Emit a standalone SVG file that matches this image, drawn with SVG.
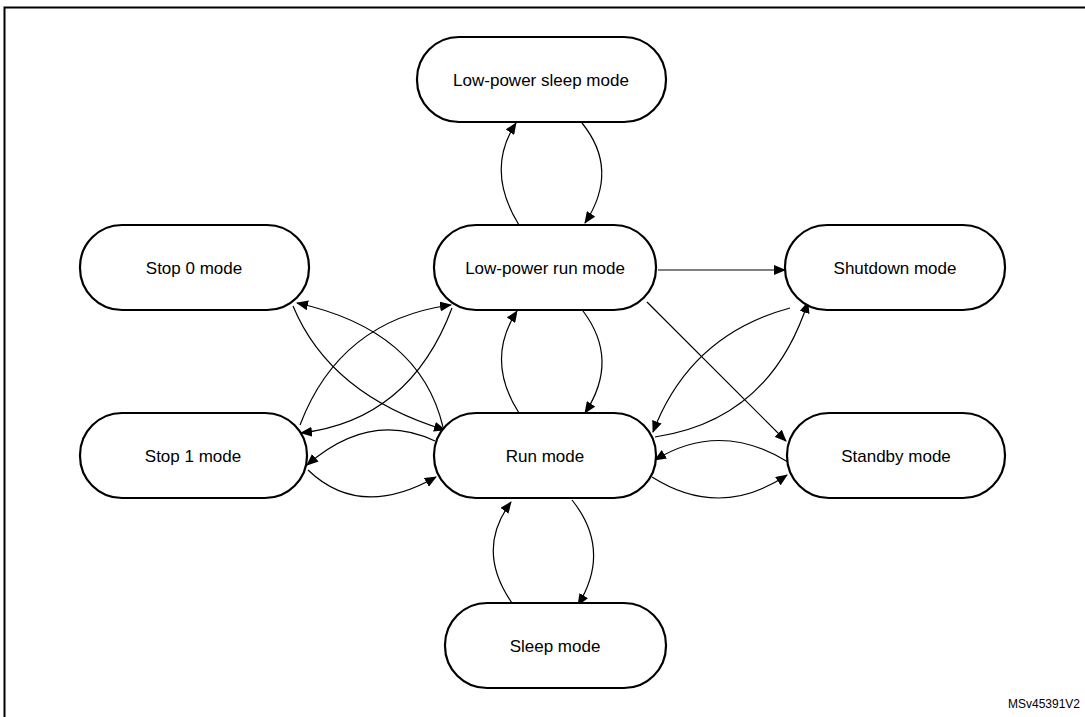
<svg xmlns="http://www.w3.org/2000/svg" width="1085" height="717" viewBox="0 0 1085 717">
<style>
.n rect{fill:#fff;stroke:#000;stroke-width:2.2}
.n text{font-family:"Liberation Sans",Arial,sans-serif;font-size:17px;text-anchor:middle;dominant-baseline:central}
.c path{fill:none;stroke:#000;stroke-width:1.2;marker-end:url(#a)}
</style>
<defs><marker id="a" markerWidth="12" markerHeight="10" refX="11" refY="5" orient="auto" markerUnits="userSpaceOnUse"><path d="M0,0 L12,5 L0,10 Z" fill="#000"/></marker></defs>
<rect x="4.5" y="7.5" width="1085" height="712" fill="#fff" stroke="#000" stroke-width="2"/>
<g class="c">
<path d="M658,270 L785,270"/>
<path d="M647,302 L786,441"/>
<path d="M519,413 Q485,360 517,311"/>
<path d="M583,311 Q620,360 585,413"/>
<path d="M519,225 Q485,170 516,123"/>
<path d="M582,123 Q620,170 585,223"/>
<path d="M512,603 Q475,550 511,502"/>
<path d="M572,500 Q612,550 578,605"/>
<path d="M293,306 Q330,395 445,430"/>
<path d="M443,427 Q420,330 297,303"/>
<path d="M300,425 Q340,320 451,305"/>
<path d="M452,308 Q410,420 301,433"/>
<path d="M308,470 Q360,520 436,477"/>
<path d="M435,441 Q370,410 307,465"/>
<path d="M790,308 Q690,335 653,432"/>
<path d="M655,437 Q770,420 808,302"/>
<path d="M788,462 Q720,420 655,460"/>
<path d="M652,477 Q720,520 787,475"/>
</g>
<g id="lpsleep" class="n"><rect x="417" y="37" width="249" height="85" rx="42"/><text x="541" y="80">Low-power sleep mode</text></g>
<g id="stop0" class="n"><rect x="80" y="225" width="229" height="85" rx="42"/><text x="194" y="268">Stop 0 mode</text></g>
<g id="lprun" class="n"><rect x="434" y="225" width="222" height="85" rx="42"/><text x="545" y="268">Low-power run mode</text></g>
<g id="shutdown" class="n"><rect x="785" y="225" width="220" height="85" rx="42"/><text x="895" y="268">Shutdown mode</text></g>
<g id="stop1" class="n"><rect x="80" y="413" width="227" height="85" rx="42"/><text x="193" y="456">Stop 1 mode</text></g>
<g id="run" class="n"><rect x="434" y="413" width="222" height="85" rx="42"/><text x="545" y="456">Run mode</text></g>
<g id="standby" class="n"><rect x="787" y="413" width="218" height="85" rx="42"/><text x="896" y="456">Standby mode</text></g>
<g id="sleep" class="n"><rect x="445" y="603" width="221" height="85" rx="42"/><text x="555" y="646">Sleep mode</text></g>
<text x="1080" y="708" font-family="Liberation Sans,Arial,sans-serif" font-size="12" text-anchor="end">MSv45391V2</text>
</svg>
